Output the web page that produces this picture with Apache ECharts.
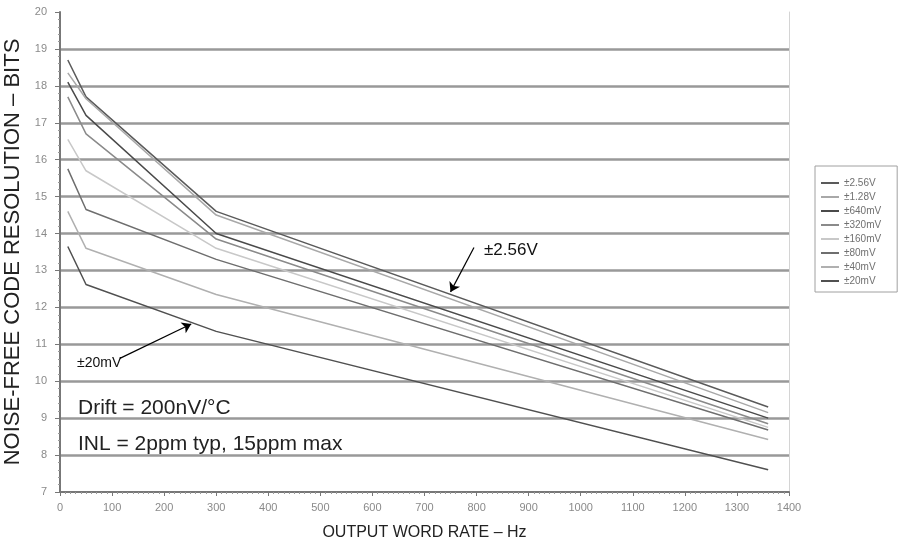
<!DOCTYPE html>
<html><head><meta charset="utf-8">
<script src="https://cdn.jsdelivr.net/npm/echarts@6/dist/echarts.min.js"></script>
<style>html,body{margin:0;padding:0;background:#fff}#c{width:898px;height:548px}</style>
</head><body><div id="c"></div>
<script>
// Output word rates (Hz) at which the curves are sampled
const rates = [15, 50, 300, 1360];
// Noise-free code resolution (bits) per input range
const names = ['±2.56V','±1.28V','±640mV','±320mV','±160mV','±80mV','±40mV','±20mV'];
const v2560 = [18.7, 17.7, 14.6, 9.3];
const v1280 = [18.35, 17.65, 14.5, 9.15];
const v640  = [18.1, 17.2, 14.0, 9.0];
const v320  = [17.7, 16.7, 13.85, 8.85];
const v160  = [16.55, 15.7, 13.6, 8.75];
const v80   = [15.75, 14.65, 13.3, 8.68];
const v40   = [14.6, 13.6, 12.35, 8.42];
const v20   = [13.65, 12.62, 11.35, 7.6];
const seriesVals = [v2560, v1280, v640, v320, v160, v80, v40, v20];
const colors = ['#5a5a5a','#a8a8a8','#4a4a4a','#8a8a8a','#c8c8c8','#6e6e6e','#b0b0b0','#505050'];
// annotation arrows in data space
const arrow256 = [[795, 13.62], [750, 12.42]];
const arrow20  = [[115, 10.62], [252, 11.55]];

const chart = echarts.init(document.getElementById('c'), null, {renderer:'canvas'});
const series = seriesVals.map((vals, i) => ({
  name: names[i], type: 'line', symbol: 'none', smooth: false,
  data: rates.map((r, j) => [r, vals[j]]),
  lineStyle: {color: colors[i], width: 1.5}, itemStyle: {color: colors[i]},
  z: 3
}));
series[0].markLine = {
  silent: true, symbol: ['none','arrow'], symbolSize: 9,
  lineStyle: {color: '#000', width: 1.2, type: 'solid'}, label: {show: false},
  data: [
    [{coord: arrow256[0]}, {coord: arrow256[1]}],
    [{coord: arrow20[0]}, {coord: arrow20[1]}]
  ]
};
chart.setOption({
  animation: false,
  backgroundColor: '#fff',
  textStyle: {fontFamily: 'Liberation Sans, Arial, sans-serif'},
  grid: {left: 60, right: 109, top: 12, bottom: 56, outerBoundsMode: 'none', containLabel: false},
  legend: {
    orient: 'vertical', left: 815, top: 166, padding: [12, 16, 6, 6],
    itemGap: 4, itemWidth: 18, itemHeight: 2, icon: 'rect',
    borderColor: '#a0a0a0', borderWidth: 1,
    textStyle: {color: '#707070', fontSize: 10, fontFamily: 'Liberation Sans, Arial'},
    data: names
  },
  xAxis: {
    type: 'value', min: 0, max: 1400, interval: 100,
    name: 'OUTPUT WORD RATE – Hz', nameLocation: 'middle', nameGap: 33,
    nameTextStyle: {color: '#222', fontSize: 16, fontFamily: 'Liberation Sans, Arial'},
    axisLine: {show: true, lineStyle: {color: '#777', width: 2}},
    axisTick: {show: true, length: 4, lineStyle: {color: '#777'}},
    minorTick: {show: true, splitNumber: 10, length: 2, lineStyle: {color: '#999'}},
    axisLabel: {color: '#8a8a8a', fontSize: 11, margin: 10, formatter: v => String(v)},
    splitLine: {show: false}
  },
  yAxis: [{
    type: 'value', min: 7, max: 20, interval: 1,
    name: 'NOISE-FREE CODE RESOLUTION – BITS', nameLocation: 'middle', nameGap: 34,
    nameTextStyle: {color: '#222', fontSize: 22, fontFamily: 'Liberation Sans, Arial'},
    axisLine: {show: true, lineStyle: {color: '#777', width: 2}},
    axisTick: {show: true, length: 5, lineStyle: {color: '#777'}},
    minorTick: {show: true, splitNumber: 5, length: 2, lineStyle: {color: '#999'}},
    axisLabel: {color: '#8a8a8a', fontSize: 11, margin: 13},
    splitLine: {show: true, showMinLine: false, showMaxLine: false, lineStyle: {color: '#999', width: 2.5}}
  }, {
    type: 'value', min: 7, max: 20, interval: 1, position: 'right',
    axisLine: {show: true, lineStyle: {color: '#d4d4d4', width: 1}},
    axisTick: {show: false}, axisLabel: {show: false}, splitLine: {show: false}
  }],
  graphic: [
    {type: 'text', left: 484, top: 242, style: {text: '±2.56V', fill: '#111', font: '17px "Liberation Sans", Arial'}},
    {type: 'text', left: 77, top: 356, style: {text: '±20mV', fill: '#111', font: '14px "Liberation Sans", Arial'}},
    {type: 'text', left: 78, top: 398, style: {text: 'Drift = 200nV/°C', fill: '#222', font: '21px "Liberation Sans", Arial'}},
    {type: 'text', left: 78, top: 434, style: {text: 'INL = 2ppm typ, 15ppm max', fill: '#222', font: '21px "Liberation Sans", Arial'}}
  ],
  series: series
});
</script></body></html>
